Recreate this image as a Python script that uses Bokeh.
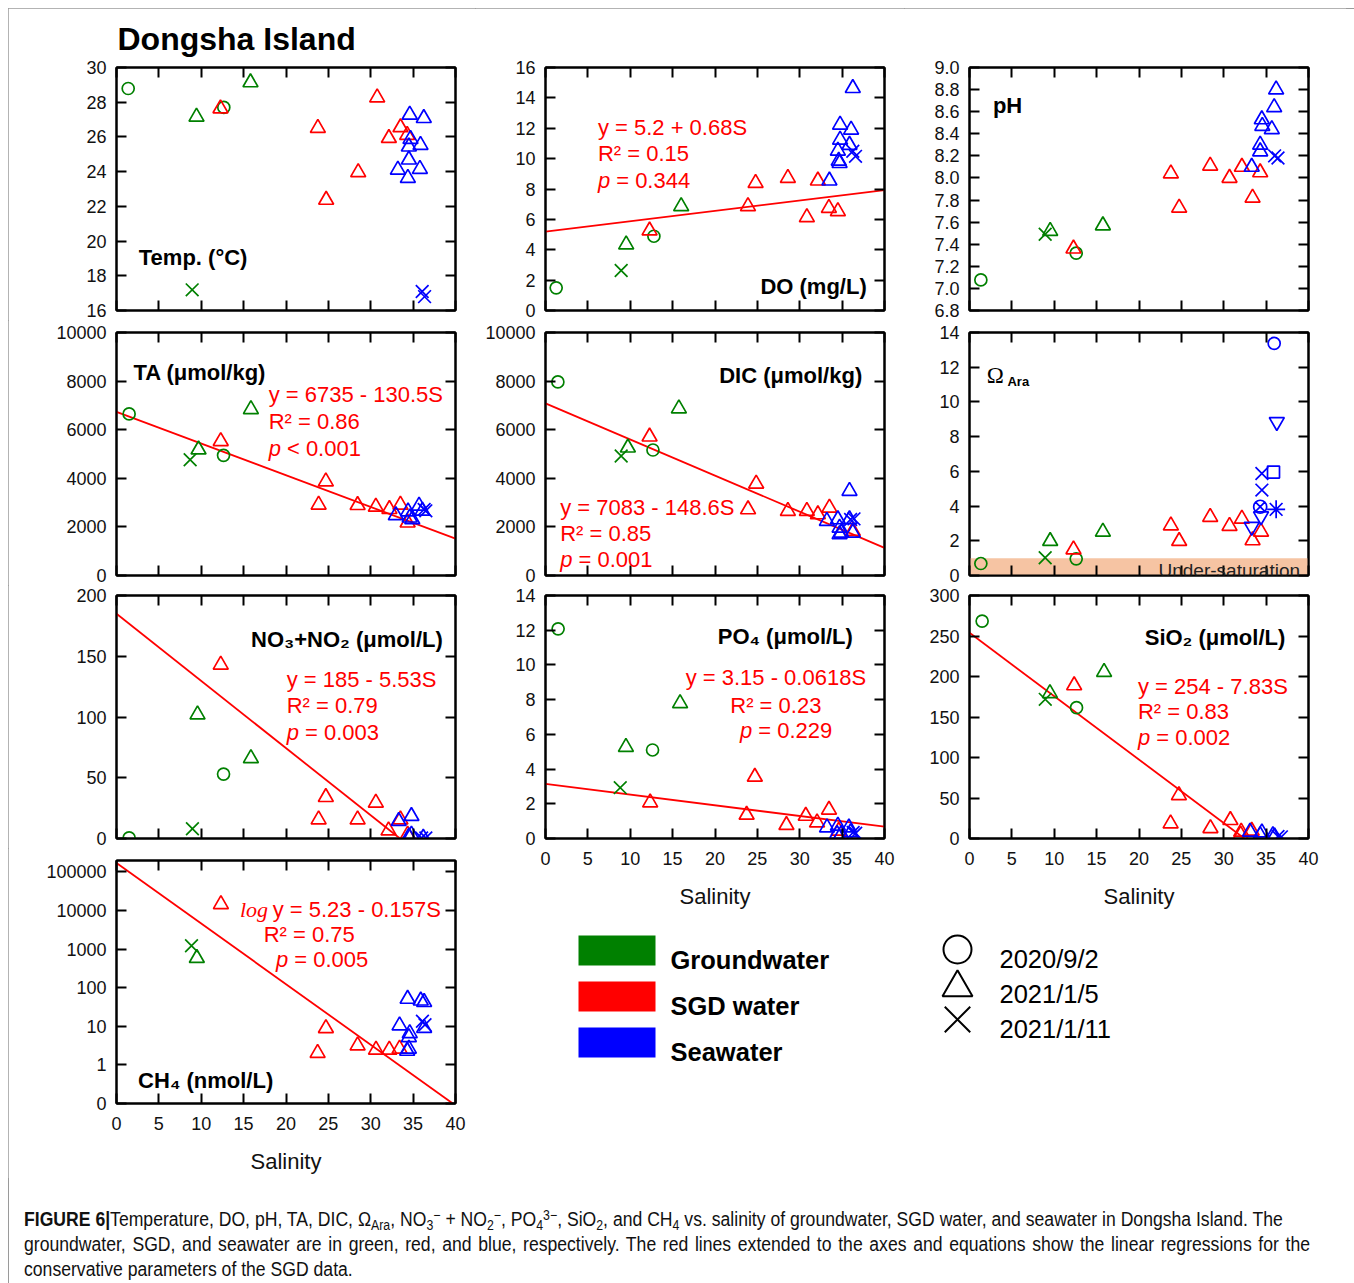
import numpy as np
from bokeh.plotting import figure
from bokeh.models import (ColumnDataSource, Range1d, LinearAxis, LogAxis, FixedTicker,
                          NumeralTickFormatter, Label, BoxAnnotation, Div)
from bokeh.layouts import column, row
from bokeh.embed import file_html
from bokeh.resources import INLINE
from bokeh.core.properties import value

FONT = "Liberation Sans"
SERIF = "Liberation Serif"
GROUP_COLORS = {"G": "#008000", "S": "#ff0000", "W": "#0000ff"}
MARKER_NAMES = {"c": "circle", "t": "triangle", "x": "x", "it": "inverted_triangle",
                "sq": "square", "cx": "circle_x", "ast": "asterisk"}
MARKER_SIZES = {"circle": 12, "triangle": 15, "x": 18, "inverted_triangle": 15,
                "square": 12, "circle_x": 13, "asterisk": 18}

X_TICKS = [0, 5, 10, 15, 20, 25, 30, 35, 40]
GW_MARKS = ["c", "t", "x", "c", "t"]

# ---------------- data (salinity S, value V, group, marker) ----------------
TEMP_S = [1.38, 9.44, 8.93, 12.66, 15.81, 12.27, 23.76, 24.74, 28.52, 30.76, 32.14, 33.51, 34.30,
          34.60, 36.26, 34.69, 34.50, 35.87, 34.50, 33.20, 35.80, 34.38, 36.07, 36.35]
TEMP_V = [28.79, 27.16, 17.19, 27.70, 29.14, 27.64, 26.51, 22.37, 23.96, 28.27, 25.93, 26.55, 26.11,
          27.28, 27.08, 25.88, 25.44, 25.53, 24.69, 24.11, 24.15, 23.63, 17.09, 16.80]
TEMP_G = ["G"] * 5 + ["S"] * 8 + ["W"] * 11
TEMP_M = GW_MARKS + ["t"] * 8 + ["t"] * 9 + ["x"] * 2

DO_S = [1.26, 9.52, 8.93, 12.79, 16.01, 12.28, 23.89, 24.79, 28.60, 30.84, 32.14, 33.44, 34.50,
        33.50, 36.26, 34.76, 36.06, 34.76, 34.50, 35.87, 34.60, 34.70, 36.26, 36.58]
DO_V = [1.49, 4.34, 2.63, 4.89, 6.86, 5.26, 6.86, 8.39, 8.72, 6.14, 8.55, 6.75, 6.53,
        8.55, 14.64, 12.23, 11.90, 11.24, 10.52, 10.90, 9.86, 9.70, 10.48, 10.15]
DO_G = ["G"] * 5 + ["S"] * 8 + ["W"] * 11
DO_M = GW_MARKS + ["t"] * 8 + ["t"] * 9 + ["x"] * 2
DO_FIT_S = [0, 40]
DO_FIT_V = [5.2, 7.92]

PH_S = [1.34, 9.52, 8.93, 12.59, 15.74, 12.27, 23.76, 24.74, 28.40, 30.68, 32.14, 33.40, 34.30,
        33.30, 36.18, 35.95, 34.49, 34.55, 35.67, 34.30, 34.30, 36.00, 36.40]
PH_V = [7.077, 7.52, 7.49, 7.32, 7.57, 7.36, 8.04, 7.73, 8.11, 8.00, 8.10, 7.82, 8.05,
        8.10, 8.80, 8.64, 8.53, 8.47, 8.44, 8.30, 8.24, 8.20, 8.18]
PH_G = ["G"] * 5 + ["S"] * 8 + ["W"] * 10
PH_M = GW_MARKS + ["t"] * 8 + ["t"] * 8 + ["x"] * 2

TA_S = [1.49, 9.68, 8.69, 12.63, 15.86, 12.30, 23.85, 24.70, 28.45, 30.60, 32.20, 33.50, 34.35,
        32.96, 34.40, 34.60, 35.70, 36.10, 34.90, 36.50, 36.30]
TA_V = [6650, 5180, 4765, 4945, 6842, 5526, 2909, 3864, 2895, 2825, 2730, 2910, 2175,
        2480, 2630, 2380, 2870, 2660, 2310, 2660, 2720]
TA_G = ["G"] * 5 + ["S"] * 8 + ["W"] * 8
TA_M = GW_MARKS + ["t"] * 8 + ["t"] * 6 + ["x"] * 2
TA_FIT_S = [0, 40]
TA_FIT_V = [6735, 1515]

DIC_S = [1.46, 9.72, 8.93, 12.68, 15.74, 12.28, 23.90, 24.86, 28.60, 30.84, 32.14, 33.50, 36.26,
         33.20, 34.50, 34.70, 34.70, 34.90, 35.87, 35.87, 36.26, 36.00, 36.40]
DIC_V = [7967, 5261, 4918, 5165, 6868, 5714, 2720, 3777, 2651, 2651, 2514, 2788, 1826,
         2239, 2308, 1964, 1690, 1760, 3475, 2308, 1760, 2308, 2330]
DIC_G = ["G"] * 5 + ["S"] * 8 + ["W"] * 10
DIC_M = GW_MARKS + ["t"] * 8 + ["t"] * 8 + ["x"] * 2
DIC_FIT_S = [0, 40]
DIC_FIT_V = [7083, 1139]

OMEGA_S = [1.34, 9.52, 8.93, 12.59, 15.74, 12.27, 23.76, 24.74, 28.40, 30.68, 32.14, 33.40, 34.40,
           35.95, 36.26, 35.87, 34.50, 34.50, 34.30, 36.18, 33.30, 34.40]
OMEGA_V = [0.69, 1.98, 1.02, 0.96, 2.52, 1.50, 2.88, 1.98, 3.37, 2.85, 3.27, 2.02, 2.52,
           13.37, 8.85, 5.96, 5.88, 4.92, 3.96, 3.81, 2.81, 3.42]
OMEGA_G = ["G"] * 5 + ["S"] * 8 + ["W"] * 9
OMEGA_M = GW_MARKS + ["t"] * 8 + ["c", "it", "sq", "x", "x", "cx", "ast", "it", "it"]
UNDERSAT = [0, 1]

NO3_S = [1.49, 9.56, 8.96, 12.63, 15.86, 12.30, 23.85, 24.70, 28.45, 30.60, 32.10, 33.50, 34.35,
         33.30, 34.80, 34.50, 34.80, 36.20, 36.00, 36.50]
NO3_V = [0.5, 102, 8, 53, 66, 143, 15.6, 34, 15.6, 29.4, 6.6, 15.6, 3,
         14.3, 18.4, 1.5, 3.0, 0.5, 0.5, 0.5]
NO3_G = ["G"] * 5 + ["S"] * 8 + ["W"] * 7
NO3_M = GW_MARKS + ["t"] * 8 + ["t"] * 5 + ["x"] * 2
NO3_FIT_S = [0, 33.45]
NO3_FIT_V = [185, 0]

PO4_S = [1.49, 9.49, 8.82, 12.63, 15.88, 12.35, 23.73, 24.70, 28.43, 30.71, 32.04, 33.45, 34.60,
         33.22, 34.50, 34.40, 35.80, 36.00, 34.90, 36.30, 36.60]
PO4_V = [12.08, 5.27, 2.93, 5.10, 7.79, 2.07, 1.36, 3.55, 0.77, 1.30, 0.92, 1.65, 0.44,
         0.63, 0.73, 0.25, 0.63, 0.35, 0.25, 0.35, 0.30]
PO4_G = ["G"] * 5 + ["S"] * 8 + ["W"] * 8
PO4_M = GW_MARKS + ["t"] * 8 + ["t"] * 6 + ["x"] * 2
PO4_FIT_S = [0, 40]
PO4_FIT_V = [3.15, 0.678]

SIO2_S = [1.49, 9.49, 8.94, 12.63, 15.88, 12.35, 23.73, 24.71, 28.43, 30.78, 32.06, 33.30, 32.00,
          33.10, 34.50, 34.30, 35.80, 36.00, 36.40, 36.80]
SIO2_V = [268.4, 179.2, 171.8, 161.5, 205.5, 189, 18.5, 53.4, 12.7, 22.6, 8.2, 9.4, 4.5,
          8.2, 7.4, 4.0, 4.0, 2.5, 2.5, 2.0]
SIO2_G = ["G"] * 5 + ["S"] * 8 + ["W"] * 7
SIO2_M = GW_MARKS + ["t"] * 8 + ["t"] * 5 + ["x"] * 2
SIO2_FIT_S = [0, 32.44]
SIO2_FIT_V = [254, 0]

CH4_S = [9.48, 8.85, 12.32, 23.73, 24.71, 28.45, 30.62, 32.19, 33.40,
         34.35, 35.90, 36.30, 33.40, 34.50, 34.60, 34.50, 34.30, 36.30, 36.10, 36.40]
CH4_V = [581, 1210, 14350, 2.02, 8.9, 3.18, 2.46, 2.46, 2.6,
         51, 46, 42, 10.4, 5.2, 6.6, 2.6, 2.3, 9, 13.5, 11]
CH4_G = ["G"] * 2 + ["S"] * 7 + ["W"] * 11
CH4_M = ["t", "x"] + ["t"] * 7 + ["t"] * 9 + ["x"] * 2
CH4_FIT_S = [0, 39.68]
CH4_FIT_V = [169824, 0.1]
CH4_TICKS = [0.1, 1, 10, 100, 1000, 10000, 100000]
CH4_LABELS = ["0", "1", "10", "100", "1000", "10000", "100000"]

LEGEND_GROUPS = ["Groundwater", "SGD water", "Seawater"]
LEGEND_GROUP_KEYS = ["G", "S", "W"]
LEGEND_DATES = ["2020/9/2", "2021/1/5", "2021/1/11"]
LEGEND_DATE_MARKS = ["circle", "triangle", "x"]


# ---------------- helpers ----------------
def make_fig(ylo, yhi, yticks, left, right, top, bottom, xlabels=False, ylog=False,
             yfmt=None, overrides=None):
    kw = dict(frame_width=339, frame_height=243, x_range=Range1d(0, 40),
              y_range=Range1d(ylo, yhi), output_backend="svg", toolbar_location=None,
              min_border_left=left, min_border_right=right, min_border_top=top,
              min_border_bottom=bottom, background_fill_color="white",
              border_fill_color="white", outline_line_color="black", outline_line_width=2)
    if ylog:
        kw["y_axis_type"] = "log"
    p = figure(**kw)
    p.grid.visible = False
    p.add_layout(LinearAxis(), "above")
    p.add_layout(LogAxis() if ylog else LinearAxis(), "right")
    for ax in p.xaxis:
        ax.ticker = FixedTicker(ticks=X_TICKS)
    for ax in p.yaxis:
        ax.ticker = FixedTicker(ticks=yticks)
        if yfmt is not None:
            ax.formatter = NumeralTickFormatter(format=yfmt)
        if overrides is not None:
            ax.major_label_overrides = overrides
    for ax in p.axis:
        ax.axis_line_width = 2
        ax.axis_line_color = "black"
        ax.major_tick_in = 10
        ax.major_tick_out = 0
        ax.major_tick_line_width = 2
        ax.major_tick_line_color = "black"
        ax.minor_tick_line_color = None
        ax.major_label_text_font = FONT
        ax.major_label_text_font_size = "18px"
        ax.major_label_text_color = "#111111"
        ax.major_label_standoff = 10
    hidden = [p.above[0], p.right[0]] + ([] if xlabels else [p.below[0]])
    for ax in hidden:
        ax.major_label_text_font_size = "1px"
        ax.major_label_text_color = None
        ax.major_label_standoff = 0
    if xlabels:
        ax = p.below[0]
        ax.major_label_standoff = 13
        ax.axis_label = "Salinity"
        ax.axis_label_text_font = FONT
        ax.axis_label_text_font_size = "22px"
        ax.axis_label_text_font_style = "normal"
        ax.axis_label_text_color = "#111111"
        ax.axis_label_standoff = 16
    return p


def add_points(p, S, V, G, M):
    names = [MARKER_NAMES[m] for m in M]
    src = ColumnDataSource(dict(s=S, v=V, color=[GROUP_COLORS[g] for g in G],
                                marker=names, size=[MARKER_SIZES[n] for n in names]))
    p.scatter("s", "v", source=src, marker="marker", size="size", line_color="color",
              fill_color=None, line_width=1.7)


def add_fit(p, S, V):
    p.line(S, V, line_color="#ff0000", line_width=1.8)


def lab(p, x, y, text, size=22, color="black", style="normal", align="left", font=FONT,
        x_offset=0, baseline="alphabetic"):
    p.add_layout(Label(x=x, y=y, text=text, text_font=font, text_font_size=f"{size}px",
                       text_color=color, text_font_style=style, text_align=align,
                       text_baseline=baseline, x_offset=x_offset))


def p_line(p, x, y, rest):
    lab(p, x, y, "p", color="#ff0000", style="italic")
    lab(p, x, y, rest, color="#ff0000", x_offset=18.3)


def eq_lines(p, x, ys, line1, line2, prest, align="left"):
    lab(p, x, ys[0], line1, color="#ff0000", align=align)
    lab(p, x, ys[1], line2, color="#ff0000", align=align)
    p_line(p, x, ys[2], prest)


# ---------------- panels ----------------
p1 = make_fig(16, 30, list(range(16, 31, 2)), 108, 20, 59, 10)
p1.title.text = "Dongsha Island"
p1.title.text_font = FONT
p1.title.text_font_size = "32px"
p1.title.text_font_style = "bold"
p1.title.text_color = "black"
p1.title.align = "left"
p1.title.offset = 1
p1.title.standoff = 21
add_points(p1, TEMP_S, TEMP_V, TEMP_G, TEMP_M)
lab(p1, 2.63, 19.07, "Temp. (°C)", style="bold")

p2 = make_fig(0, 16, list(range(0, 17, 2)), 65, 25, 59, 10)
add_fit(p2, DO_FIT_S, DO_FIT_V)
add_points(p2, DO_S, DO_V, DO_G, DO_M)
eq_lines(p2, 6.18, [12.05, 10.31, 8.55], "y = 5.2 + 0.68S", "R² = 0.15", "= 0.344")
lab(p2, 37.9, 1.6, "DO (mg/L)", style="bold", align="right")

PH_TICKS = [round(v, 1) for v in np.arange(6.8, 9.01, 0.2)]
p3 = make_fig(6.8, 9.0, PH_TICKS, 65, 38, 59, 10, yfmt="0.0")
add_points(p3, PH_S, PH_V, PH_G, PH_M)
lab(p3, 2.76, 8.652, "pH", style="bold")

p4 = make_fig(0, 10000, list(range(0, 10001, 2000)), 108, 20, 12, 10)
add_fit(p4, TA_FIT_S, TA_FIT_V)
add_points(p4, TA_S, TA_V, TA_G, TA_M)
lab(p4, 2.0, 8363, "TA (μmol/kg)", style="bold")
eq_lines(p4, 17.95, [7436, 6327, 5222], "y = 6735 - 130.5S", "R² = 0.86", "< 0.001")

p5 = make_fig(0, 10000, list(range(0, 10001, 2000)), 65, 25, 12, 10)
add_fit(p5, DIC_FIT_S, DIC_FIT_V)
add_points(p5, DIC_S, DIC_V, DIC_G, DIC_M)
lab(p5, 37.37, 8212, "DIC (μmol/kg)", style="bold", align="right")
eq_lines(p5, 1.73, [2790, 1719, 648], "y = 7083 - 148.6S", "R² = 0.85", "= 0.001")

p6 = make_fig(0, 14, list(range(0, 15, 2)), 65, 38, 12, 10)
p6.add_layout(BoxAnnotation(bottom=UNDERSAT[0], top=UNDERSAT[1], fill_color="#f6c4a3",
                            fill_alpha=1, line_color=None, level="underlay"))
add_points(p6, OMEGA_S, OMEGA_V, OMEGA_G, OMEGA_M)
lab(p6, 2.05, 11.5, "Ω", size=23, font=SERIF)
lab(p6, 4.48, 11.15, "Ara", size=13, style="bold")
lab(p6, 39.0, 0.3, "Under-saturation", size=19, color="#222222", align="right")

p7 = make_fig(0, 200, list(range(0, 201, 50)), 108, 20, 10, 10)
add_fit(p7, NO3_FIT_S, NO3_FIT_V)
add_points(p7, NO3_S, NO3_V, NO3_G, NO3_M)
lab(p7, 38.5, 163.8, "NO₃+NO₂ (μmol/L)", style="bold", align="right")
eq_lines(p7, 20.08, [130.9, 109.1, 87.2], "y = 185 - 5.53S", "R² = 0.79", "= 0.003")

p8 = make_fig(0, 14, list(range(0, 15, 2)), 70, 20, 10, 75, xlabels=True)
add_fit(p8, PO4_FIT_S, PO4_FIT_V)
add_points(p8, PO4_S, PO4_V, PO4_G, PO4_M)
lab(p8, 36.27, 11.66, "PO₄ (μmol/L)", style="bold", align="right")
lab(p8, 27.18, 9.26, "y = 3.15 - 0.0618S", color="#ff0000", align="center")
lab(p8, 27.18, 7.69, "R² = 0.23", color="#ff0000", align="center")
p_line(p8, 22.94, 6.25, "= 0.229")

p9 = make_fig(0, 300, list(range(0, 301, 50)), 64, 39, 10, 75, xlabels=True)
add_fit(p9, SIO2_FIT_S, SIO2_FIT_V)
add_points(p9, SIO2_S, SIO2_V, SIO2_G, SIO2_M)
lab(p9, 37.26, 248.6, "SiO₂ (μmol/L)", style="bold", align="right")
eq_lines(p9, 19.88, [188.2, 156.2, 124.5], "y = 254 - 7.83S", "R² = 0.83", "= 0.002")

p10 = make_fig(0.1, 10 ** 5.292, CH4_TICKS, 108, 20, 12, 75, xlabels=True, ylog=True,
               yfmt="0", overrides=dict(zip(CH4_TICKS, CH4_LABELS)))
add_fit(p10, CH4_FIT_S, CH4_FIT_V)
add_points(p10, CH4_S, CH4_V, CH4_G, CH4_M)
lab(p10, 2.55, 0.397, "CH₄ (nmol/L)", style="bold")
lab(p10, 14.56, 10670, "log", font=SERIF, style="italic", color="#ff0000")
lab(p10, 18.43, 10670, "y = 5.23 - 0.157S", color="#ff0000")
lab(p10, 17.36, 2416, "R² = 0.75", color="#ff0000")
p_line(p10, 18.82, 547, "= 0.005")

# ---------------- legend ----------------
LW, LH = 871, 265
leg = figure(width=LW, height=LH, x_range=Range1d(0, LW), y_range=Range1d(LH, 0),
             output_backend="svg", toolbar_location=None, min_border=0,
             outline_line_color=None, x_axis_location=None, y_axis_location=None,
             background_fill_color="white", border_fill_color="white")
leg.grid.visible = False
rows_g = list(range(len(LEGEND_GROUPS)))
gy = [37 + 46 * i for i in rows_g]
leg.rect(x=[141.5] * 3, y=gy, width=77, height=30,
         fill_color=[GROUP_COLORS[k] for k in LEGEND_GROUP_KEYS], line_color=None)
leg.text(x=[195] * 3, y=[v + 9 for v in gy], text=LEGEND_GROUPS, text_font=value(FONT),
         text_font_style="bold", text_font_size="25.5px", text_baseline="alphabetic",
         text_color="black")
dy = [36, 74, 106]
leg.scatter(x=[482] * 3, y=dy, marker=LEGEND_DATE_MARKS, size=[28, 30, 36],
            fill_color=None, line_color="black", line_width=2)
leg.text(x=[524] * 3, y=[45, 80, 115], text=LEGEND_DATES, text_font=value(FONT),
         text_font_size="25.5px", text_baseline="alphabetic", text_color="black")

# ---------------- caption ----------------
CAP_SCALE = 0.88
CAP_FONT = "font-family:'Liberation Sans',Arial,sans-serif;font-size:20px;color:#111;"
SUB = "<span style=\"position:relative;top:0.3em;font-size:70%;line-height:0;\">{}</span>"
SUP = "<span style=\"position:relative;top:-0.45em;font-size:70%;line-height:0;\">{}</span>"


def cap_line(html, target_w=None):
    st = (f"white-space:nowrap;height:25px;line-height:25px;overflow:visible;"
          f"transform:scaleX({CAP_SCALE});transform-origin:0 0;")
    if target_w is not None:
        st += f"width:{target_w / CAP_SCALE:.1f}px;text-align:justify;text-align-last:justify;"
    return f"<div style=\"{st}\">{html}</div>"


CAP_LINE1 = ("<b>FIGURE 6</b><b>|</b>Temperature, DO, pH, TA, DIC, Ω" + SUB.format("Ara") + ", "
             "NO" + SUB.format("3") + SUP.format("−") + " + NO" + SUB.format("2") + SUP.format("−")
             + ", PO" + SUB.format("4") + SUP.format("3−") + ", SiO" + SUB.format("2")
             + ", and CH" + SUB.format("4") + " vs. salinity of groundwater, SGD water, and "
             "seawater in Dongsha Island. The")
CAP_LINE2 = ("groundwater, SGD, and seawater are in green, red, and blue, respectively. The red "
             "lines extended to the axes and equations show the linear regressions for the")
CAP_LINE3 = "conservative parameters of the SGD data."
caption_html = (f"<div style=\"{CAP_FONT}padding-left:11px;padding-top:24px;\">"
                + cap_line(CAP_LINE1, 1256) + cap_line(CAP_LINE2, 1286) + cap_line(CAP_LINE3)
                + "</div>")
caption = Div(text=caption_html, width=1338, height=104)

col1 = column(p1, p4, p7, p10, spacing=0)
col2 = column(p2, p5, p8, spacing=0)
col3 = column(p3, p6, p9, spacing=0)
col23 = column(row(col2, col3, spacing=0), leg, spacing=0)
layout = column(row(col1, col23, spacing=0), caption, spacing=0,
                styles={"margin-left": "8px", "margin-top": "8px",
                        "outline": "1px solid #9a9a9a", "outline-offset": "-1px"})

open("out.html", "w").write(file_html(layout, INLINE))
